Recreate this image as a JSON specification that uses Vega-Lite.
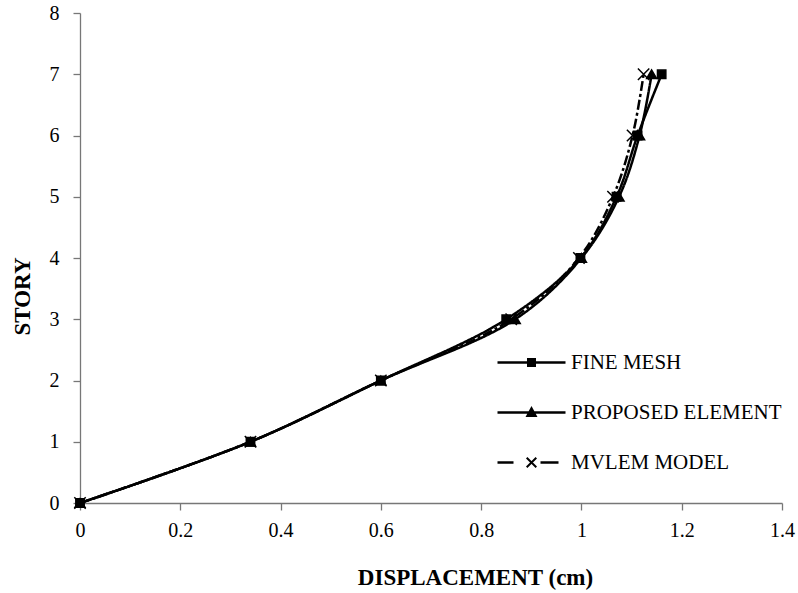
{
  "$schema": "https://vega.github.io/schema/vega-lite/v6.json",
  "width": 702,
  "height": 490,
  "autosize": {"type": "none"},
  "padding": {"left": 80, "top": 13, "right": 16, "bottom": 90},
  "background": "white",
  "config": {
    "view": {"stroke": null},
    "font": "Liberation Serif",
    "axis": {
      "grid": false,
      "domainColor": "#777",
      "tickColor": "#777",
      "domainWidth": 1.3,
      "tickWidth": 1.3,
      "tickSize": 7,
      "labelFont": "Liberation Serif",
      "labelFontSize": 20,
      "labelColor": "black",
      "titleFont": "Liberation Serif",
      "titleFontSize": 23,
      "titleFontWeight": "bold",
      "titleColor": "black"
    }
  },
  "data": {
    "values": [
      {"series": "FINE MESH", "story": 0, "disp": 0},
      {"series": "FINE MESH", "story": 1, "disp": 0.34},
      {"series": "FINE MESH", "story": 2, "disp": 0.6},
      {"series": "FINE MESH", "story": 3, "disp": 0.85},
      {"series": "FINE MESH", "story": 4, "disp": 0.998},
      {"series": "FINE MESH", "story": 5, "disp": 1.07},
      {"series": "FINE MESH", "story": 6, "disp": 1.112},
      {"series": "FINE MESH", "story": 7, "disp": 1.16},
      {"series": "PROPOSED ELEMENT", "story": 0, "disp": 0},
      {"series": "PROPOSED ELEMENT", "story": 1, "disp": 0.34},
      {"series": "PROPOSED ELEMENT", "story": 2, "disp": 0.6},
      {"series": "PROPOSED ELEMENT", "story": 3, "disp": 0.868},
      {"series": "PROPOSED ELEMENT", "story": 4, "disp": 1.0},
      {"series": "PROPOSED ELEMENT", "story": 5, "disp": 1.075},
      {"series": "PROPOSED ELEMENT", "story": 6, "disp": 1.116},
      {"series": "PROPOSED ELEMENT", "story": 7, "disp": 1.14},
      {"series": "MVLEM MODEL", "story": 0, "disp": 0},
      {"series": "MVLEM MODEL", "story": 1, "disp": 0.34},
      {"series": "MVLEM MODEL", "story": 2, "disp": 0.6},
      {"series": "MVLEM MODEL", "story": 3, "disp": 0.86},
      {"series": "MVLEM MODEL", "story": 4, "disp": 0.995},
      {"series": "MVLEM MODEL", "story": 5, "disp": 1.063},
      {"series": "MVLEM MODEL", "story": 6, "disp": 1.102},
      {"series": "MVLEM MODEL", "story": 7, "disp": 1.124}
    ]
  },
  "encoding": {
    "x": {
      "field": "disp",
      "type": "quantitative",
      "scale": {"domain": [0, 1.4], "nice": false, "zero": false},
      "axis": {
        "values": [0, 0.2, 0.4, 0.6, 0.8, 1, 1.2, 1.4],
        "format": "~g",
        "labelPadding": 10,
        "labelFlush": false,
        "title": "DISPLACEMENT (cm)",
        "titleX": 395,
        "titleY": 74,
        "titleBaseline": "middle",
        "titleAnchor": null
      }
    },
    "y": {
      "field": "story",
      "type": "quantitative",
      "scale": {"domain": [0, 8], "nice": false},
      "axis": {
        "values": [0, 1, 2, 3, 4, 5, 6, 7, 8],
        "labelPadding": 14,
        "labelFlush": false,
        "title": "STORY",
        "titleX": -58,
        "titleY": 283,
        "titleAngle": -90,
        "titleAlign": "center",
        "titleBaseline": "middle",
        "titleAnchor": null
      }
    }
  },
  "layer": [
    {
      "mark": {"type": "line", "interpolate": "catmull-rom", "color": "black", "strokeWidth": 2.5},
      "encoding": {
        "detail": {"field": "series"},
        "order": {"field": "story", "type": "quantitative"},
        "strokeDash": {
          "field": "series",
          "type": "nominal",
          "scale": {
            "domain": ["FINE MESH", "PROPOSED ELEMENT", "MVLEM MODEL"],
            "range": [[1, 0], [1, 0], [10, 3, 3, 3]]
          },
          "legend": null
        }
      }
    },
    {
      "mark": {"type": "point", "filled": true, "fill": "black", "stroke": "black", "strokeWidth": 1.5, "opacity": 1},
      "encoding": {
        "shape": {
          "field": "series",
          "type": "nominal",
          "scale": {
            "domain": ["FINE MESH", "PROPOSED ELEMENT", "MVLEM MODEL"],
            "range": ["square", "triangle-up", "M-1,-1L1,1M-1,1L1,-1"]
          },
          "legend": null
        },
        "size": {
          "field": "series",
          "type": "nominal",
          "scale": {
            "domain": ["FINE MESH", "PROPOSED ELEMENT", "MVLEM MODEL"],
            "range": [70, 130, 45]
          },
          "legend": null
        }
      }
    },
    {
      "mark": {"type": "point", "filled": false, "fill": "black", "stroke": "black", "strokeWidth": 2.5, "opacity": 0},
      "encoding": {
        "shape": {
          "field": "series",
          "type": "nominal",
          "scale": {
            "domain": ["FINE MESH", "PROPOSED ELEMENT", "MVLEM MODEL"],
            "range": [
              "M-3.4,-0.13H3.4V0.13H-3.4ZM-0.45,-0.45H0.45V0.45H-0.45Z",
              "M-3.4,-0.13H3.4V0.13H-3.4ZM0,-0.65L0.6,0.45L-0.6,0.45Z",
              "M-3.4,-0.12H-1.8V0.12H-3.4ZM0.9,-0.12H2.7V0.12H0.9ZM-0.55,-0.41L-0.41,-0.55L0.55,0.41L0.41,0.55ZM-0.55,0.41L0.41,-0.55L0.55,-0.41L-0.41,0.55Z"
            ]
          },
          "legend": {
            "title": null,
            "orient": "none",
            "legendX": 441,
            "legendY": 339,
            "padding": 0,
            "symbolSize": 400,
            "symbolStrokeWidth": 0,
            "symbolFillColor": "black",
            "symbolOpacity": 1,
            "labelFont": "Liberation Serif",
            "labelFontSize": 21,
            "labelColor": "black",
            "labelOffset": 29,
            "labelLimit": 400,
            "rowPadding": 28
          }
        }
      }
    }
  ],
  "resolve": {"scale": {"shape": "independent"}, "legend": {"shape": "independent"}}
}
